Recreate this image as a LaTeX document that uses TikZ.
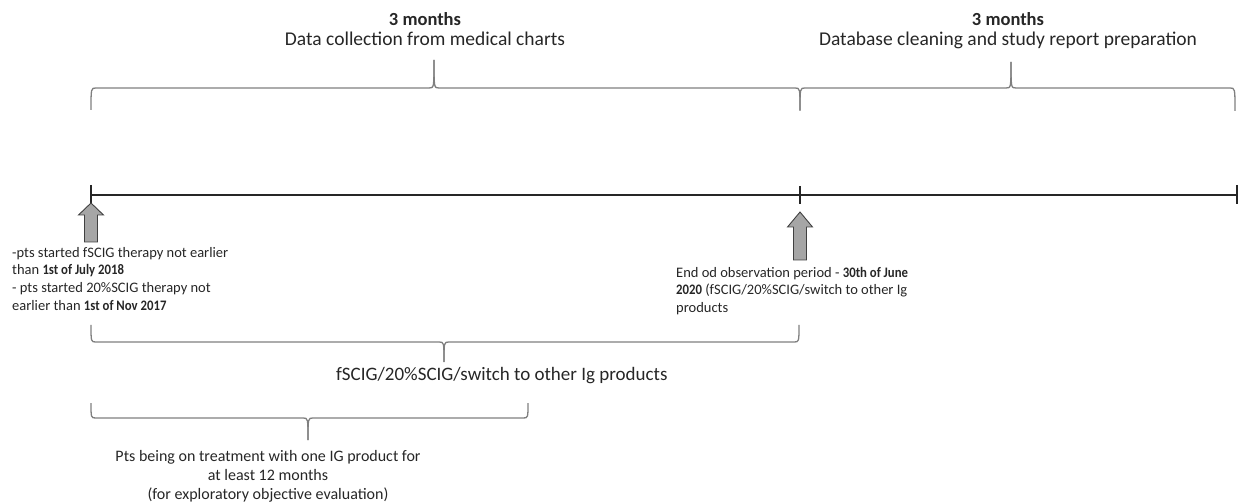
\documentclass[tikz,border=0pt]{standalone}
\usepackage{fontspec}
\setmainfont{Carlito}[BoldFeatures={FakeStretch=0.88}]
\newfontfamily\wideboldfam{Carlito}
\definecolor{bracegray}{HTML}{7F7F7F}
\definecolor{arrowfill}{HTML}{A6A6A6}
\definecolor{arrowline}{HTML}{404040}
\definecolor{txt}{HTML}{262626}
\tikzset{
  bracestyle/.style={draw=bracegray, line width=1.3pt, line join=round},
  timeline/.style={draw=black!85, line width=1.4pt},
  blockarrow/.style={fill=arrowfill, draw=arrowline, line width=0.9pt, line join=miter},
  toplabel/.style={font=\fontsize{19.5}{20.5}\selectfont, text=txt, align=center, inner sep=0pt, anchor=north},
  note/.style={font=\fontsize{14.5}{17.6}\selectfont, text=txt, align=left, inner sep=0pt, anchor=north west},
}
% brace: x1 (left), x2 (right), xm, yline, yend, ytip
\newcommand{\mybrace}[6]{%
  \pgfmathsetmacro{\bxa}{#1+5}%
  \pgfmathsetmacro{\bxb}{#3-5}%
  \pgfmathsetmacro{\bxc}{#3+5}%
  \pgfmathsetmacro{\bxd}{#2-5}%
  \draw[bracestyle] (#1,#5) .. controls (#1,#4) .. (\bxa,#4) -- (\bxb,#4) .. controls (#3,#4) .. (#3,#6);
  \draw[bracestyle] (#2,#5) .. controls (#2,#4) .. (\bxd,#4) -- (\bxc,#4) .. controls (#3,#4) .. (#3,#6);
}
% block arrow up: x, ytip, yheadbase, ybottom
\newcommand{\uparrowblock}[4]{%
  \pgfmathsetmacro{\axa}{#1-12.5}%
  \pgfmathsetmacro{\axb}{#1-6.5}%
  \pgfmathsetmacro{\axc}{#1+6.5}%
  \pgfmathsetmacro{\axd}{#1+12.5}%
  \draw[blockarrow] (#1,#2) -- (\axd,#3) -- (\axc,#3) -- (\axc,#4) -- (\axb,#4) -- (\axb,#3) -- (\axa,#3) -- cycle;
}
\begin{document}
\begin{tikzpicture}[x=1pt,y=-1pt]
\useasboundingbox (0,0) rectangle (1239,502);

% timeline
\coordinate (t0) at (91,195);
\coordinate (t1) at (800,195);
\coordinate (t2) at (1237,195);
\draw[timeline] (t0) -- (t2);
\draw[timeline] (91,185) -- (91,204);
\draw[timeline] (800,186) -- (800,204);
\draw[timeline] (1237,185) -- (1237,204);

% top braces
\mybrace{91}{800}{434}{88}{110}{60}
\mybrace{800}{1235}{1011}{88}{111}{62}

% bottom braces
\mybrace{91}{799}{444}{342}{325}{362}
\mybrace{91}{528}{308}{418}{403}{440}

% arrows
\uparrowblock{91}{203}{215}{242}
\uparrowblock{800}{212}{227}{260}

% top labels
\node[toplabel] (lab1) at (425,12) {{\wideboldfam\fontsize{18.5}{20}\selectfont\bfseries 3 months}\\Data collection from medical charts};
\node[toplabel] (lab2) at (1008,12) {{\wideboldfam\fontsize{18.5}{20}\selectfont\bfseries 3 months}\\Database cleaning and study report preparation};

% notes
\node[note] (left) at (12,247) {-pts started fSCIG therapy not earlier\\than \textbf{1st of July 2018}\\- pts started 20\%SCIG therapy not\\earlier than \textbf{1st of Nov 2017}};
\node[note] (right) at (676,267) {End od observation period - \textbf{30th of June}\\\textbf{2020} (fSCIG/20\%SCIG/switch to other Ig\\products};

% bottom labels
\node[font=\fontsize{19}{20}\selectfont, text=txt, inner sep=0pt, anchor=base west] (main) at (336,380) {fSCIG/20\%SCIG/switch to other Ig products};
\node[font=\fontsize{16}{19}\selectfont, text=txt, align=center, inner sep=0pt, anchor=north] (pts) at (268,450) {Pts being on treatment with one IG product for\\at least 12 months\\(for exploratory objective evaluation)};
\end{tikzpicture}
\end{document}
